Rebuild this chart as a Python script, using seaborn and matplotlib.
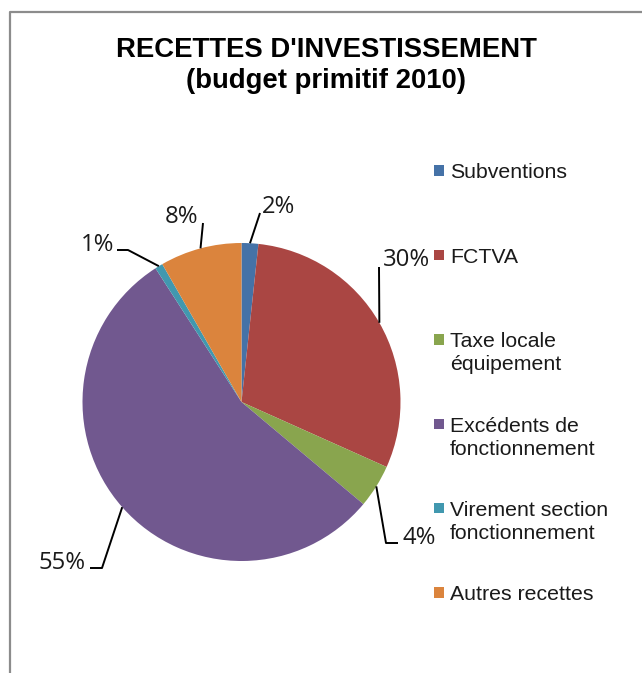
import numpy as np
import matplotlib
matplotlib.use("Agg")
import matplotlib.pyplot as plt
from matplotlib.patches import Rectangle
import seaborn as sns

# data (percent of total)
categories = ["Subventions", "FCTVA", "Taxe locale\néquipement",
              "Excédents de\nfonctionnement", "Virement section\nfonctionnement",
              "Autres recettes"]
values = [1.7, 30.0, 4.4, 54.8, 0.8, 8.3]
title_lines = ["RECETTES D'INVESTISSEMENT", "(budget primitif 2010)"]

colors = sns.color_palette(["#4572A7", "#AA4643", "#89A54E",
                            "#71588F", "#4198AF", "#DB843D"])

# layout, in pixels from top-left of the image
W, H = 642, 673
CX, CY, R = 241.5, 402, 159
# label text (x centre, baseline) and leader elbow points, per slice
label_pos = [(279, 213), (406, 266.5), (419, 544), (62, 569), (98, 251), (182, 223)]
leader_pts = [[(260, 213)], [(379, 267)], [(398, 543), (386, 543)],
              [(90, 568), (102, 568)], [(117, 250), (128, 250)], [(203, 223)]]


def P(px, py):
    return px, H - py


sns.set_theme(style="white")
plt.rcParams["font.family"] = ["Liberation Sans", "DejaVu Sans"]
plt.rcParams["text.color"] = "black"

fig = plt.figure(figsize=(W / 100, H / 100), dpi=100)
ax = fig.add_axes([0, 0, 1, 1])

wedges, _ = ax.pie(values, colors=colors, startangle=90, counterclock=False,
                   center=P(CX, CY), radius=R,
                   wedgeprops=dict(linewidth=0, edgecolor="none"))
ax.set_aspect("auto")
ax.set_xlim(0, W)
ax.set_ylim(0, H)
ax.axis("off")

# data labels with leader lines from wedge mid-angle
total = sum(values)
for w, v, (lx, ly), pts in zip(wedges, values, label_pos, leader_pts):
    ang = np.deg2rad((w.theta1 + w.theta2) / 2)
    ex, ey = w.center[0] + R * np.cos(ang), w.center[1] + R * np.sin(ang)
    xs = [P(*p)[0] for p in pts] + [ex]
    ys = [P(*p)[1] for p in pts] + [ey]
    ax.plot(xs, ys, color="black", lw=1.4, solid_capstyle="butt")
    ax.text(*P(lx, ly), f"{v / total * 100:.0f}%", ha="center", va="baseline",
            fontsize=17.2, family=["Open Sans", "DejaVu Sans"], fontstyle="normal",
            color="#1a1a1a")

# title
ax.text(*P(326, 57), title_lines[0], ha="center", va="baseline",
        fontsize=19.8, fontweight="bold")
ax.text(*P(326, 88), title_lines[1], ha="center", va="baseline",
        fontsize=19.8, fontweight="bold")

# legend drawn item by item
for i, (name, c) in enumerate(zip(categories, colors)):
    base = 178.3 + i * 84.4
    ax.add_patch(Rectangle(P(434, base - 2.5), 10, 10.5, facecolor=c, edgecolor="none"))
    for j, line in enumerate(name.split("\n")):
        ax.text(*P(450, base + j * 23.3), line, ha="left", va="baseline",
                fontsize=15.3, color="#1a1a1a")

# chart border (top and left visible)
ax.plot([10, 10, W], [0, H - 12, H - 12], color="#8c8c8c", lw=1.6, clip_on=False)

fig.savefig("out.png", dpi=100)
